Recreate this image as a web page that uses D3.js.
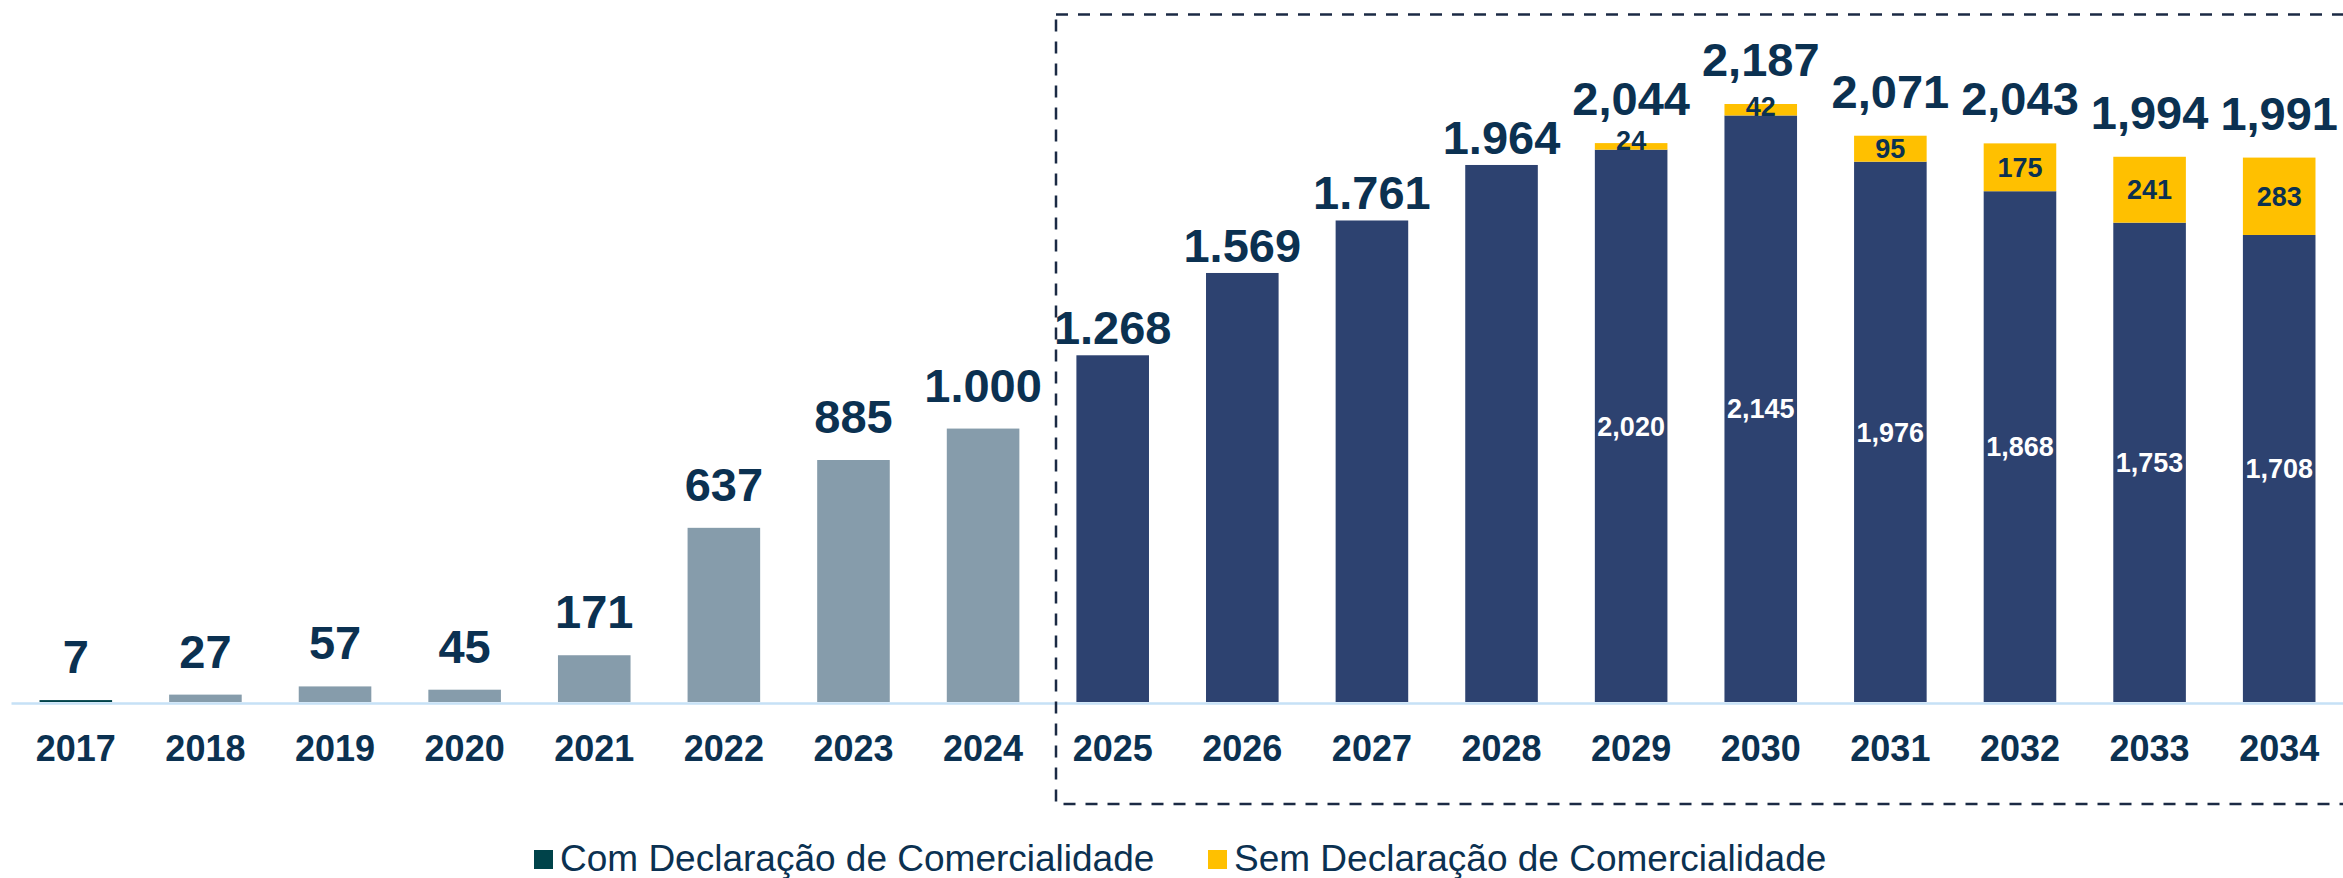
<!DOCTYPE html>
<html>
<head>
<meta charset="utf-8">
<script src="https://cdn.jsdelivr.net/npm/d3@7"></script>
<style>
  html, body { margin: 0; padding: 0; background: #fff; }
  svg { display: block; font-family: Arial, "Liberation Sans", sans-serif; }
</style>
</head>
<body>
<svg id="chart" width="2343" height="878"></svg>
<script>
// data
const years = ["2017", "2018", "2019", "2020", "2021", "2022", "2023", "2024",
  "2025", "2026", "2027", "2028", "2029", "2030", "2031", "2032", "2033", "2034"];
const historicYears = years.slice(0, 8);
const historicValues = [7, 27, 57, 45, 171, 637, 885, 1000];
const forecastYears = years.slice(8);
const comDeclaracao = [1268, 1569, 1761, 1964, 2020, 2145, 1976, 1868, 1753, 1708];
const semDeclaracao = [0, 0, 0, 0, 24, 42, 95, 175, 241, 283];
const legendLabels = ["Com Declaração de Comercialidade", "Sem Declaração de Comercialidade"];

const width = 2343, height = 878;
const grayColor = "#869cab",
  tealColor = "#00434a",
  navyColor = "#2d4270",
  yellowColor = "#ffc000",
  textColor = "#0b3151",
  axisColor = "#c6e1f6";

const svg = d3.select("#chart");

const x = d3.scaleBand()
  .domain(years)
  .range([11, 2344])
  .paddingInner(0.44)
  .paddingOuter(0.22);

const y = d3.scaleLinear()
  .domain([0, 2187])
  .range([702, 104]);

// thousands separator: "." for the first years, "," for the stacked ones
const fmt = d3.format(",");
const totalText = (yr, v) => +yr <= 2028 ? fmt(v).replace(",", ".") : fmt(v);

// historic bars
const historic = historicYears.map((yr, i) => ({ year: yr, value: historicValues[i] }));
const gHist = svg.append("g").attr("class", "historic");
gHist.selectAll("rect")
  .data(historic)
  .join("rect")
  .attr("x", d => x(d.year))
  .attr("y", d => y(d.value))
  .attr("width", x.bandwidth())
  .attr("height", d => y(0) - y(d.value))
  .attr("fill", (d, i) => i === 0 ? tealColor : grayColor);
gHist.selectAll("text")
  .data(historic)
  .join("text")
  .attr("x", d => x(d.year) + x.bandwidth() / 2)
  .attr("y", d => y(d.value) - 27)
  .attr("text-anchor", "middle")
  .attr("font-size", 47)
  .attr("font-weight", "bold")
  .attr("fill", textColor)
  .text(d => totalText(d.year, d.value));

// forecast stacked bars
const forecast = forecastYears.map((yr, i) => ({
  year: yr, com: comDeclaracao[i], sem: semDeclaracao[i], total: comDeclaracao[i] + semDeclaracao[i]
}));
const gFc = svg.append("g").attr("class", "forecast");
const items = gFc.selectAll("g")
  .data(forecast)
  .join("g");

items.append("rect")
  .attr("x", d => x(d.year))
  .attr("y", d => y(d.com))
  .attr("width", x.bandwidth())
  .attr("height", d => y(0) - y(d.com))
  .attr("fill", navyColor);

items.filter(d => d.sem > 0).append("rect")
  .attr("x", d => x(d.year))
  .attr("y", d => y(d.total))
  .attr("width", x.bandwidth())
  .attr("height", d => y(d.com) - y(d.total))
  .attr("fill", yellowColor);

// white labels inside the navy part, only when stacked
items.filter(d => d.sem > 0).append("text")
  .attr("x", d => x(d.year) + x.bandwidth() / 2)
  .attr("y", d => (y(0) + y(d.com)) / 2)
  .attr("dy", "0.36em")
  .attr("text-anchor", "middle")
  .attr("font-size", 27)
  .attr("font-weight", "bold")
  .attr("fill", "#fff")
  .text(d => fmt(d.com));

// labels inside yellow part
items.filter(d => d.sem > 0).append("text")
  .attr("x", d => x(d.year) + x.bandwidth() / 2)
  .attr("y", d => Math.min((y(d.com) + y(d.total)) / 2, y(d.com) - 9))
  .attr("dy", "0.36em")
  .attr("text-anchor", "middle")
  .attr("font-size", 27)
  .attr("font-weight", "bold")
  .attr("fill", textColor)
  .text(d => fmt(d.sem));

// totals
items.append("text")
  .attr("x", d => x(d.year) + x.bandwidth() / 2)
  .attr("y", d => y(d.total) - (d.sem > 0 ? 28 : 11))
  .attr("text-anchor", "middle")
  .attr("font-size", 47)
  .attr("font-weight", "bold")
  .attr("fill", textColor)
  .text(d => totalText(d.year, d.total));

// x axis
const xAxis = svg.append("g")
  .attr("transform", `translate(0,${y(0) + 1})`)
  .call(d3.axisBottom(x).tickSize(0).tickPadding(32));
xAxis.select(".domain")
  .attr("stroke", axisColor)
  .attr("stroke-width", 2.5);
xAxis.selectAll("text")
  .attr("font-size", 36)
  .attr("font-weight", "bold")
  .attr("font-family", "Arial, 'Liberation Sans', sans-serif")
  .attr("fill", textColor);

// dashed box around the projection
svg.append("rect")
  .attr("x", 1056)
  .attr("y", 14.5)
  .attr("width", 1320)
  .attr("height", 789.5)
  .attr("fill", "none")
  .attr("stroke", "#1b2a44")
  .attr("stroke-width", 2.5)
  .attr("stroke-dasharray", "12,10");

// legend
const legend = svg.append("g").attr("class", "legend");
const legendItems = [
  { label: legendLabels[0], color: tealColor, x: 534 },
  { label: legendLabels[1], color: yellowColor, x: 1208 }
];
legend.selectAll("rect")
  .data(legendItems)
  .join("rect")
  .attr("x", d => d.x)
  .attr("y", 850)
  .attr("width", 19)
  .attr("height", 19)
  .attr("fill", d => d.color);
legend.selectAll("text")
  .data(legendItems)
  .join("text")
  .attr("x", d => d.x + 26)
  .attr("y", 871)
  .attr("font-size", 37)
  .attr("fill", textColor)
  .text(d => d.label);
</script>
</body>
</html>
